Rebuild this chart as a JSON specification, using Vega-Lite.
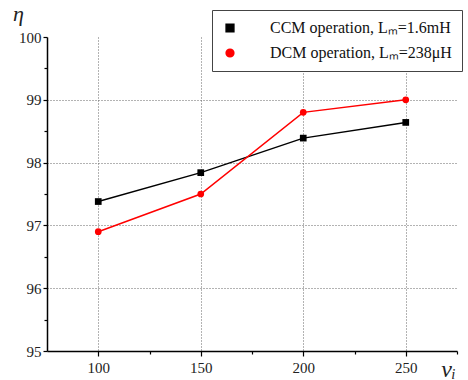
{
  "$schema": "https://vega.github.io/schema/vega-lite/v6.json",
  "width": 410,
  "height": 314,
  "autosize": {"type": "none"},
  "padding": {"left": 47, "top": 37, "right": 11, "bottom": 29},
  "background": "white",
  "config": {
    "view": {"stroke": null},
    "font": "Liberation Serif",
    "legend": {
      "title": null,
      "orient": "none",
      "legendX": 165,
      "legendY": -27,
      "padding": 10,
      "strokeColor": "#444",
      "fillColor": "white",
      "symbolSize": 60,
      "symbolOffset": 0,
      "symbolOpacity": 1,
      "labelOffset": 32,
      "labelFont": "Liberation Serif",
      "labelFontSize": 16,
      "labelColor": "#111",
      "labelLimit": 300,
      "rowPadding": 9
    },
    "axis": {
      "labelFont": "Liberation Serif",
      "labelFontSize": 15,
      "labelColor": "#222",
      "domainColor": "black",
      "domainWidth": 1.5,
      "tickColor": "black",
      "tickWidth": 1.2,
      "titleFont": "Liberation Serif",
      "titleFontWeight": "normal",
      "titleFontStyle": "italic",
      "titleColor": "#222"
    }
  },
  "data": {
    "values": [
      {"v": 100, "eta": 97.38, "series": "CCM operation, Lₘ=1.6mH"},
      {"v": 150, "eta": 97.84, "series": "CCM operation, Lₘ=1.6mH"},
      {"v": 200, "eta": 98.39, "series": "CCM operation, Lₘ=1.6mH"},
      {"v": 250, "eta": 98.64, "series": "CCM operation, Lₘ=1.6mH"},
      {"v": 100, "eta": 96.9, "series": "DCM operation, Lₘ=238μH"},
      {"v": 150, "eta": 97.5, "series": "DCM operation, Lₘ=238μH"},
      {"v": 200, "eta": 98.8, "series": "DCM operation, Lₘ=238μH"},
      {"v": 250, "eta": 99.0, "series": "DCM operation, Lₘ=238μH"}
    ]
  },
  "resolve": {"axis": {"x": "independent", "y": "independent"}},
  "layer": [
    {
      "mark": {"type": "line", "strokeWidth": 1.5},
      "encoding": {
        "x": {
          "field": "v", "type": "quantitative",
          "scale": {"domain": [75, 275], "nice": false},
          "axis": {
            "orient": "bottom",
            "values": [100, 150, 200, 250],
            "title": "vᵢ",
            "titleFontSize": 24,
            "titleX": 401,
            "titleY": 18,
            "titleAlign": "center",
            "titleBaseline": "middle",
            "tickSize": 5,
            "labelPadding": 4,
            "grid": true,
            "gridColor": "#666",
            "gridDash": [1, 2],
            "gridWidth": 1
          }
        },
        "y": {
          "field": "eta", "type": "quantitative",
          "scale": {"domain": [95, 100], "nice": false, "zero": false},
          "axis": {
            "orient": "left",
            "values": [95, 96, 97, 98, 99, 100],
            "title": "η",
            "titleFontSize": 22,
            "titleAngle": 0,
            "titleX": -29,
            "titleY": -24,
            "titleAlign": "center",
            "titleBaseline": "middle",
            "tickSize": 4,
            "labelPadding": 2,
            "grid": true,
            "gridColor": "#666",
            "gridDash": [1, 2],
            "gridWidth": 1,
            "gridOpacity": {"condition": {"test": "datum.value === 95 || datum.value === 100", "value": 0}, "value": 1}
          }
        },
        "color": {
          "field": "series", "type": "nominal",
          "scale": {"domain": ["CCM operation, Lₘ=1.6mH", "DCM operation, Lₘ=238μH"], "range": ["#000000", "#ff0000"]}
        }
      }
    },
    {
      "mark": {"type": "point", "filled": true, "opacity": 1, "size": 45},
      "encoding": {
        "x": {"field": "v", "type": "quantitative", "axis": null},
        "y": {"field": "eta", "type": "quantitative", "axis": null},
        "color": {"field": "series", "type": "nominal"},
        "shape": {
          "field": "series", "type": "nominal",
          "scale": {"domain": ["CCM operation, Lₘ=1.6mH", "DCM operation, Lₘ=238μH"], "range": ["square", "circle"]}
        }
      }
    },
    {
      "mark": {"type": "point", "filled": true, "opacity": 0, "size": 10},
      "encoding": {
        "x": {
          "field": "v", "type": "quantitative",
          "axis": {"orient": "bottom", "values": [125, 175, 225, 275], "labels": false, "domain": false, "grid": false, "tickSize": 3, "title": null}
        },
        "y": {
          "field": "eta", "type": "quantitative",
          "axis": {"orient": "left", "values": [95.5, 96.5, 97.5, 98.5, 99.5], "labels": false, "domain": false, "grid": false, "tickSize": 3, "title": null}
        }
      }
    }
  ]
}
